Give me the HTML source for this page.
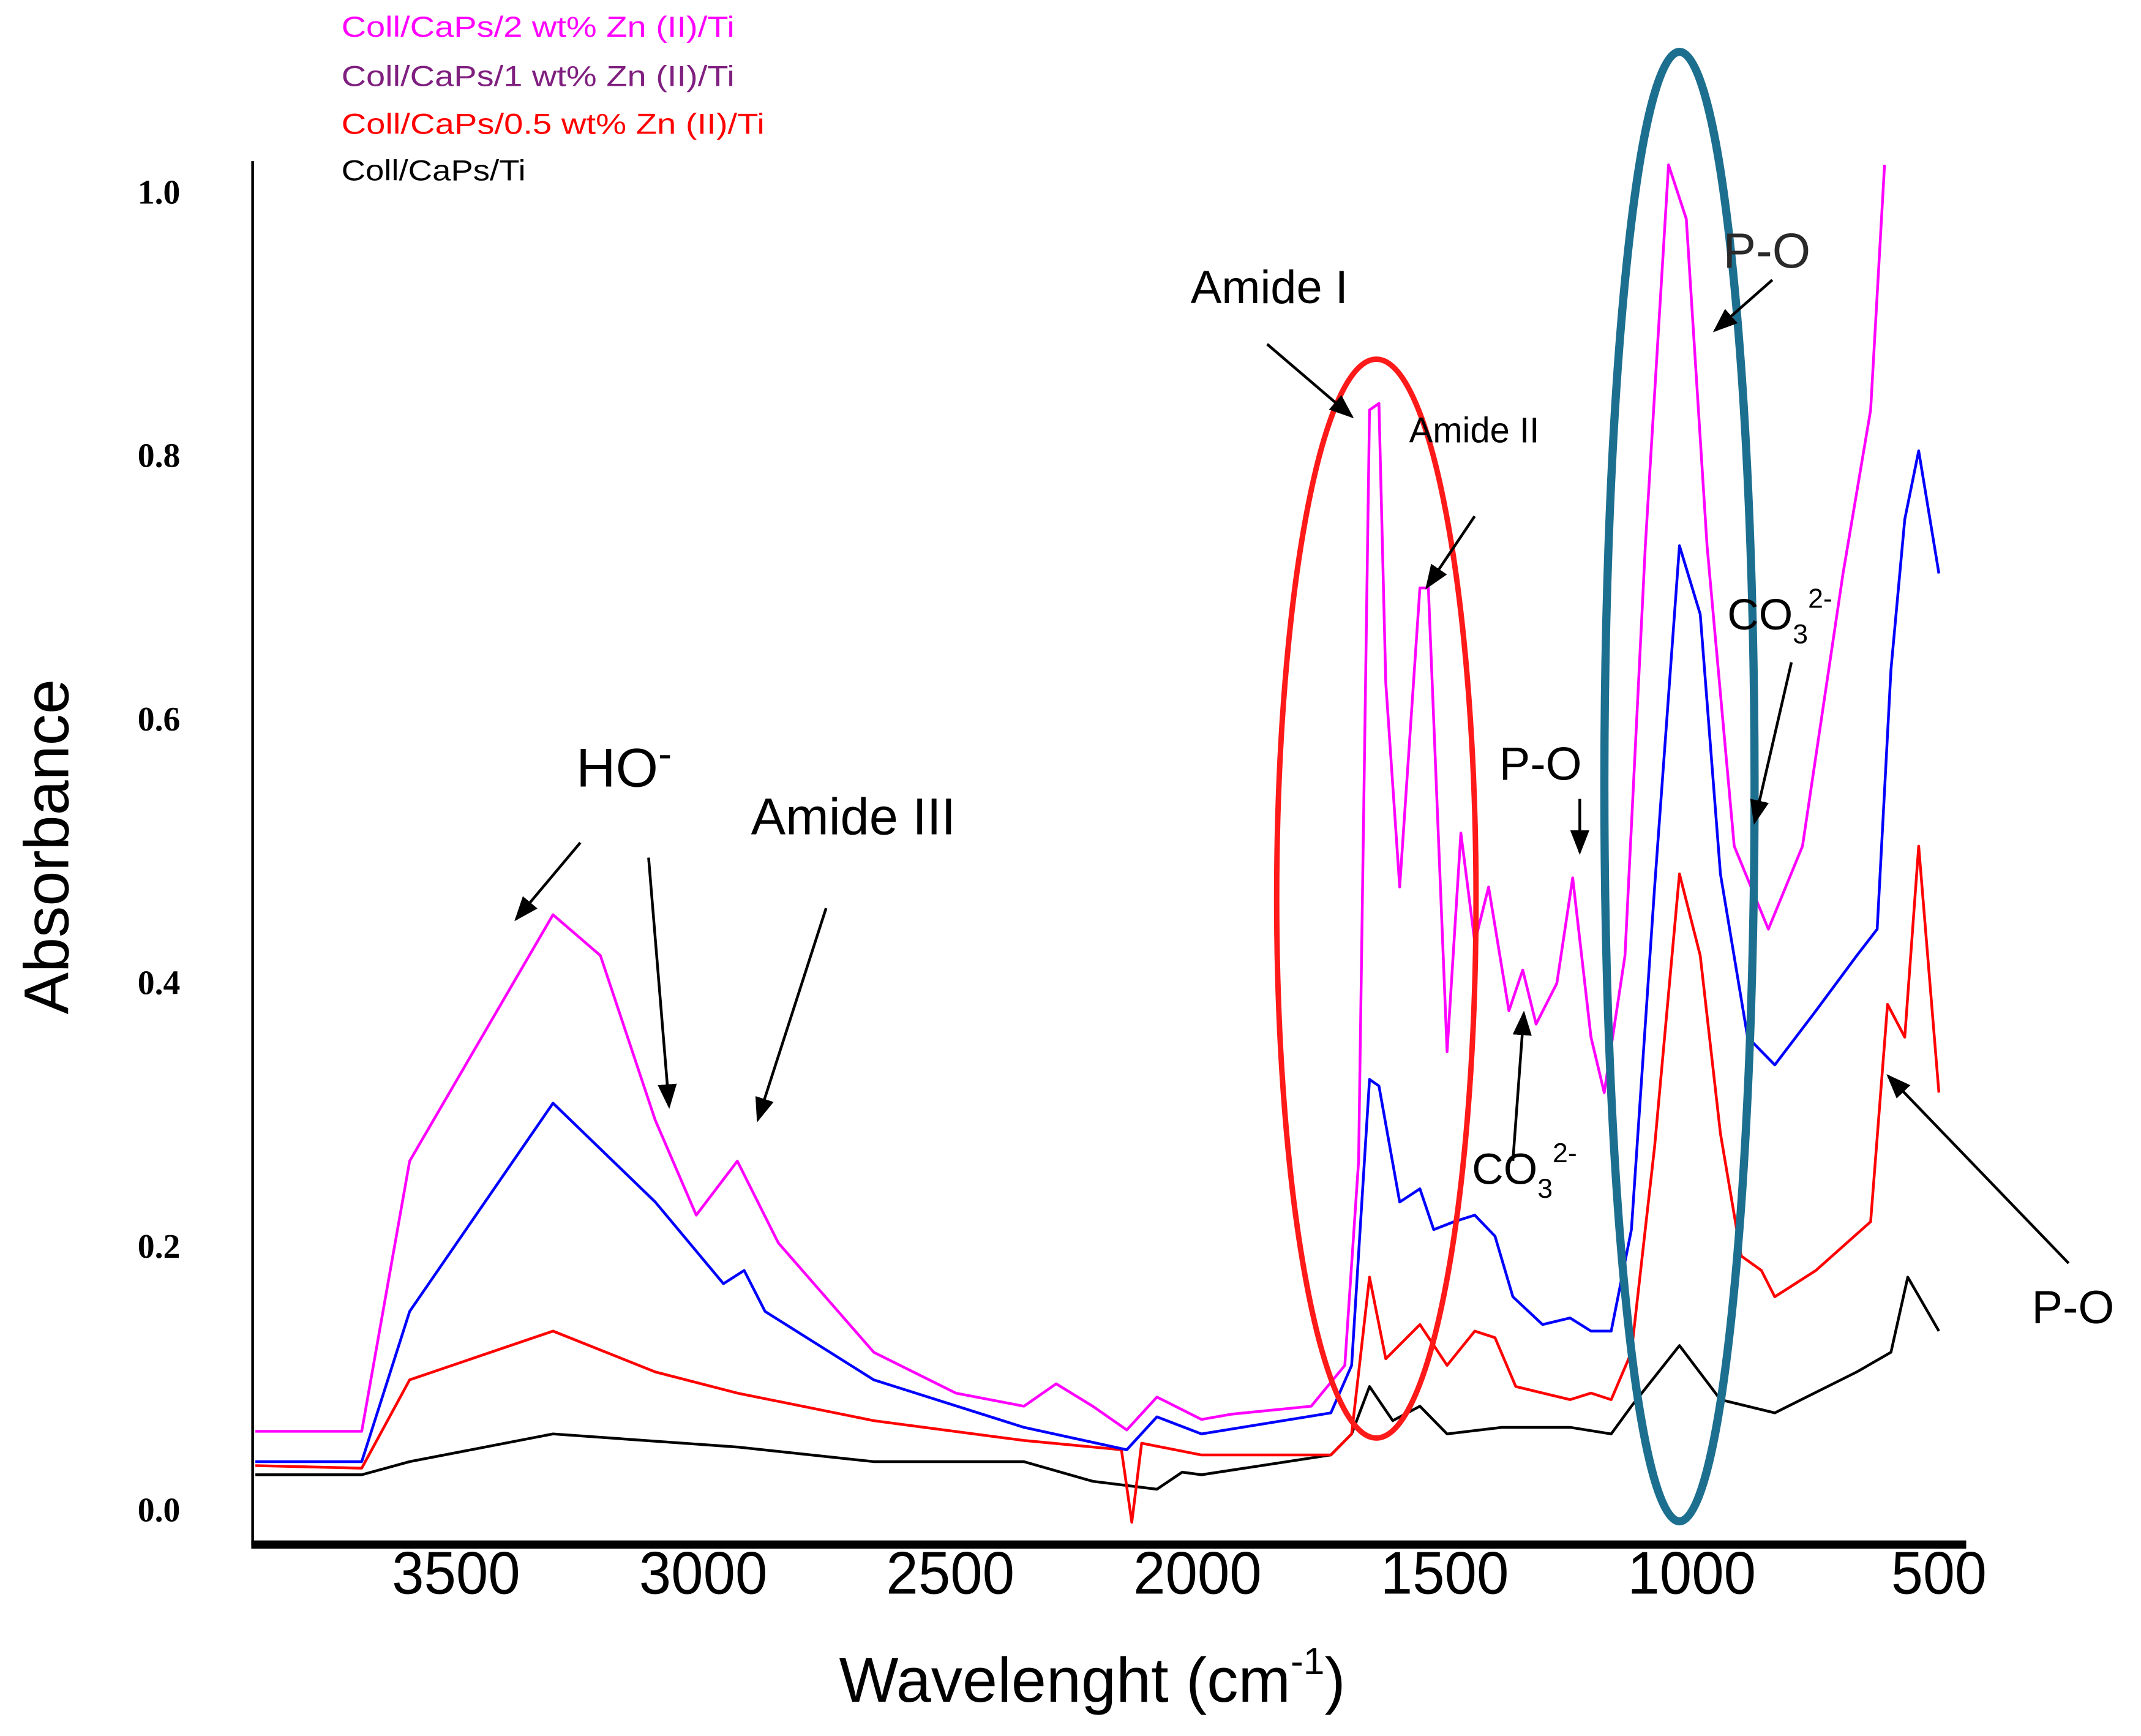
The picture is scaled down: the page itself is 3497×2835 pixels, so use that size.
<!DOCTYPE html>
<html><head><meta charset="utf-8"><style>
html,body{margin:0;padding:0;background:#fff}
svg{display:block}
</style></head><body>
<svg id="chart" width="3497" height="2835" viewBox="0 0 1568 1271.2" xmlns="http://www.w3.org/2000/svg" font-family="'Liberation Sans', sans-serif">
<rect width="1568" height="1272" fill="#fff"/>
<g id="legend" font-size="21">
<text x="250" y="27" fill="#ff00ff" textLength="288" lengthAdjust="spacingAndGlyphs">Coll/CaPs/2 wt% Zn (II)/Ti</text>
<text x="250" y="63" fill="#7f1f7f" textLength="288" lengthAdjust="spacingAndGlyphs">Coll/CaPs/1 wt% Zn (II)/Ti</text>
<text x="250" y="98" fill="#ff0000" textLength="310" lengthAdjust="spacingAndGlyphs">Coll/CaPs/0.5 wt% Zn (II)/Ti</text>
<text x="250" y="132" fill="#000" textLength="135" lengthAdjust="spacingAndGlyphs">Coll/CaPs/Ti</text>
</g>
<g id="axes"></g>
<g id="series"></g>
<g id="annot" font-family="'Liberation Sans', sans-serif" fill="#000">
<ellipse cx="1008" cy="658" rx="73" ry="395" fill="none" stroke="#ff1a1a" stroke-width="4"/>
<ellipse cx="1230" cy="576" rx="55" ry="538" fill="none" stroke="#1d6f8f" stroke-width="6"/>
<text x="872" y="222" font-size="34">Amide I</text>
<text x="1032" y="324" font-size="26">Amide II</text>
<text x="1262" y="196" font-size="36" fill="#2a2a2a">P-O</text>
<text x="422" y="576" font-size="40">HO<tspan font-size="30" dy="-14">-</tspan></text>
<text x="550" y="611" font-size="38">Amide III</text>
<text x="1098" y="571" font-size="34">P-O</text>
<text x="1078" y="867" font-size="32">CO<tspan font-size="20" dy="10">3</tspan><tspan font-size="20" dy="-26">2-</tspan></text>
<text x="1265" y="461" font-size="32">CO<tspan font-size="20" dy="10">3</tspan><tspan font-size="20" dy="-26">2-</tspan></text>
<text x="1488" y="969" font-size="34">P-O</text>
</g>
<defs>
<marker id="ahb" markerWidth="18" markerHeight="14" refX="16" refY="7" orient="auto" markerUnits="userSpaceOnUse"><path d="M0,0 L18,7 L0,14 z" fill="#000"/></marker></defs>
<g id="arrows" stroke="#000" stroke-width="2">
<line x1="928" y1="252" x2="990" y2="305" marker-end="url(#ahb)"/>
<line x1="1080" y1="378" x2="1045" y2="430" marker-end="url(#ahb)"/>
<line x1="1298" y1="205" x2="1256" y2="242" marker-end="url(#ahb)"/>
<line x1="425" y1="617" x2="378" y2="673" marker-end="url(#ahb)"/>
<line x1="475" y1="628" x2="490" y2="810" marker-end="url(#ahb)"/>
<line x1="605" y1="665" x2="555" y2="820" marker-end="url(#ahb)"/>
<line x1="1157" y1="585" x2="1157" y2="624" marker-end="url(#ahb)"/>
<line x1="1108" y1="850" x2="1116" y2="742" marker-end="url(#ahb)"/>
<line x1="1312" y1="485" x2="1285" y2="602" marker-end="url(#ahb)"/>
<line x1="1515" y1="925" x2="1383" y2="788" marker-end="url(#ahb)"/>
</g>
</svg>
<script>
const yTicks=[0.0,0.2,0.4,0.6,0.8,1.0];
const xTicks=[3500,3000,2500,2000,1500,1000,500];
const wn2=[3906,3691,3594,3304,3208,3097,3014,2931,2848,2655,2489,2351,2286,2212,2143,2082,1992,1930,1770,1702,1674,1652,1633,1619,1591,1550,1533,1495,1467,1439,1411,1370,1342,1315,1273,1241,1204,1177,1135,1094,1047,1011,969,914,845,776,694,638,610];
const abs2=[0.059,0.059,0.264,0.451,0.420,0.295,0.223,0.264,0.202,0.119,0.088,0.078,0.095,0.078,0.06,0.085,0.068,0.072,0.078,0.109,0.264,0.834,0.839,0.627,0.472,0.699,0.699,0.347,0.513,0.430,0.472,0.378,0.409,0.368,0.399,0.479,0.358,0.316,0.420,0.731,1.02,0.979,0.731,0.503,0.440,0.503,0.710,0.834,1.02];
const wn1=[3906,3691,3594,3304,3097,2959,2917,2875,2655,2351,2143,2082,1992,1730,1688,1652,1633,1591,1550,1522,1481,1439,1398,1362,1302,1246,1204,1163,1122,1075,1025,983,942,887,832,749,666,625,597,569,541,500];
const abs1=[0.036,0.036,0.150,0.308,0.233,0.171,0.181,0.150,0.098,0.062,0.045,0.07,0.057,0.073,0.109,0.326,0.321,0.233,0.243,0.212,0.218,0.223,0.207,0.161,0.140,0.145,0.135,0.135,0.212,0.472,0.731,0.679,0.482,0.358,0.337,0.378,0.420,0.440,0.637,0.751,0.803,0.710];
const wn05=[3906,3691,3594,3304,3097,2931,2655,2351,2154,2133,2113,1992,1730,1688,1652,1619,1550,1495,1439,1398,1356,1246,1204,1163,1122,1075,1025,983,942,900,859,832,749,638,604,569,541,500];
const abs05=[0.033,0.031,0.098,0.135,0.104,0.088,0.067,0.052,0.045,-0.01,0.05,0.041,0.041,0.057,0.176,0.114,0.140,0.109,0.135,0.130,0.093,0.083,0.088,0.083,0.119,0.275,0.482,0.420,0.285,0.192,0.181,0.161,0.181,0.218,0.383,0.358,0.503,0.316];
const wn0=[3906,3691,3594,3304,2931,2655,2351,2212,2082,2031,1992,1730,1688,1652,1605,1550,1495,1384,1246,1163,1122,1025,942,832,666,597,563,500];
const abs0=[0.026,0.026,0.036,0.057,0.047,0.036,0.036,0.021,0.015,0.028,0.026,0.041,0.057,0.093,0.067,0.078,0.057,0.062,0.062,0.057,0.078,0.124,0.083,0.073,0.104,0.119,0.176,0.135];
const seriesNames=['coll-caps-ti','coll-caps-05wt','coll-caps-1wt','coll-caps-2wt'];
const NS='http://www.w3.org/2000/svg';
function xs(w){return 1239+(1000-w)*0.362;}
function ys(a){return 1105-a*965;}
const axes=document.getElementById('axes');
function mk(tag,attrs,parent){const e=document.createElementNS(NS,tag);for(const k in attrs)e.setAttribute(k,attrs[k]);parent.appendChild(e);return e;}
let e=mk('line',{x1:185,y1:118,x2:185,y2:1132,stroke:'#000','stroke-width':2},axes);


e=mk('line',{x1:184,y1:1131,x2:1440,y2:1131,stroke:'#000','stroke-width':6},axes);


yTicks.forEach(v=>{const t=mk('text',{x:132,y:ys(v)+9,'text-anchor':'end','font-family':"'Liberation Serif', serif",'font-weight':'bold','font-size':25},axes);t.textContent=v.toFixed(1);

});
xTicks.forEach(v=>{const s=String(v);const t=mk('text',{x:xs(v),y:1167,'text-anchor':'middle','font-size':44,textLength:s.length>3?94:70,lengthAdjust:'spacingAndGlyphs'},axes);t.textContent=s;

});
let yt=mk('text',{x:0,y:0,transform:'translate(50,620) rotate(-90)','text-anchor':'middle','font-size':46},axes);yt.textContent='Absorbance';


let xt=mk('text',{x:800,y:1246,'text-anchor':'middle','font-size':46},axes);
xt.innerHTML='Wavelenght (cm<tspan font-size="28" dy="-20">-1</tspan><tspan dy="20">)</tspan>';


const sg=document.getElementById('series');
[[wn0,abs0,'#000'],[wn05,abs05,'#ff0000'],[wn1,abs1,'#0000ff'],[wn2,abs2,'#ff00ff']].forEach((s,i)=>{
const d=s[0].map((w,j)=>(j?'L':'M')+xs(w).toFixed(1)+','+ys(s[1][j]).toFixed(1)).join(' ');
const p=mk('path',{d:d,fill:'none',stroke:s[2],'stroke-width':2,'stroke-linejoin':'round'},sg);


});
</script>
</body></html>
